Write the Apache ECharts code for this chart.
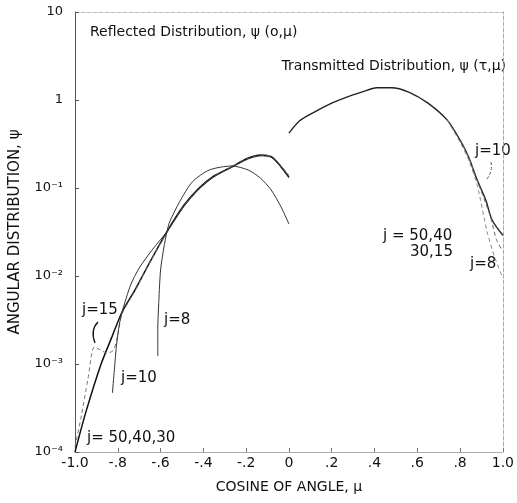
<!DOCTYPE html>
<html>
<head>
<meta charset="utf-8">
<script src="https://cdn.jsdelivr.net/npm/echarts@6/dist/echarts.min.js"></script>
<style>
  html, body { margin: 0; padding: 0; background: #fff; }
  #main { width: 517px; height: 503px; }
</style>
</head>
<body>
<div id="main"></div>
<script>
// reflected distribution psi(0, mu), mu < 0
const reflMu = [-1, -0.95, -0.88, -0.825, -0.78, -0.72, -0.65, -0.57, -0.49, -0.42, -0.35, -0.27, -0.19, -0.13, -0.08, -0.04, 0];
const reflJ50 = [1e-4, 2.8e-4, 9.7e-4, 2.1e-3, 3.9e-3, 6.9e-3, 0.0144, 0.032, 0.064, 0.10, 0.137, 0.173, 0.219, 0.237, 0.225, 0.178, 0.133];

const reflMuJ15 = [-1, -0.97, -0.94, -0.91, -0.88, -0.85, -0.82, -0.80, -0.78, -0.72, -0.65, -0.57, -0.49, -0.42, -0.35, -0.27, -0.19, -0.13, -0.08, -0.04, 0];
const reflJ15 = [1.14e-4, 2.6e-4, 6.6e-4, 1.56e-3, 1.44e-3, 1.33e-3, 1.44e-3, 2.14e-3, 3.7e-3, 6.7e-3, 0.0142, 0.031, 0.063, 0.098, 0.135, 0.172, 0.217, 0.236, 0.227, 0.182, 0.14];

const reflMuJ10 = [-0.825, -0.816, -0.806, -0.793, -0.78, -0.74, -0.70, -0.64, -0.57, -0.49, -0.42, -0.35, -0.27, -0.19, -0.13, -0.08, -0.04, 0];
const reflJ10 = [4.7e-4, 8.6e-4, 1.64e-3, 2.8e-3, 3.9e-3, 7.9e-3, 0.0123, 0.0197, 0.032, 0.062, 0.097, 0.134, 0.170, 0.214, 0.232, 0.222, 0.176, 0.13];

const reflMuJ8 = [-0.613, -0.613, -0.608, -0.60, -0.585, -0.57, -0.558, -0.512, -0.452, -0.373, -0.267, -0.19, -0.134, -0.083, -0.037, 0];
const reflJ8 = [1.23e-3, 2.43e-3, 5.3e-3, 0.0117, 0.0208, 0.032, 0.041, 0.069, 0.117, 0.160, 0.178, 0.160, 0.130, 0.095, 0.061, 0.039];

// transmitted distribution psi(tau, mu), mu > 0
const transMu = [0, 0.05, 0.11, 0.2, 0.27, 0.34, 0.41, 0.48, 0.56, 0.65, 0.74, 0.8, 0.84, 0.88, 0.92, 0.95, 1.0];
const transJ50 = [0.42, 0.58, 0.71, 0.92, 1.08, 1.23, 1.38, 1.38, 1.23, 0.92, 0.59, 0.35, 0.225, 0.123, 0.073, 0.043, 0.029];

const transMuJ10 = [0.8, 0.84, 0.87, 0.90, 0.94, 0.97, 1.0];
const transJ10 = [0.35, 0.225, 0.14, 0.09, 0.049, 0.026, 0.019];

const transMuJ8 = [0.74, 0.8, 0.84, 0.88, 0.926, 0.963, 1.0];
const transJ8 = [0.59, 0.33, 0.208, 0.108, 0.032, 0.016, 0.0095];

const yTickLabels = { '10': '10', '1': '1', '0.1': '10⁻¹', '0.01': '10⁻²', '0.001': '10⁻³', '0.0001': '10⁻⁴' };

const zip = (xs, ys) => xs.map((x, i) => [x, ys[i]]);

const font = 'DejaVu Sans';

const chart = echarts.init(document.getElementById('main'), null, { renderer: 'canvas' });

function line(data, color, width, type) {
  return {
    type: 'line',
    data: data,
    symbol: 'none',
    smooth: 0.25,
    lineStyle: { color: color, width: width, type: type || 'solid' },
    silent: true
  };
}

function txt(pos, text, size) {
  return Object.assign({
    type: 'text',
    style: { text: text, fontSize: size, fontFamily: font, fill: '#111' }
  }, pos);
}

const option = {
  animation: false,
  backgroundColor: '#fff',
  grid: { left: 74, right: 10, top: 12, bottom: 51 },
  xAxis: [
    {
      type: 'value',
      min: -1,
      max: 1,
      interval: 0.2,
      name: 'COSINE OF ANGLE, μ',
      nameLocation: 'middle',
      nameGap: 28,
      nameTextStyle: { fontSize: 14, fontFamily: font, color: '#111' },
      axisLine: { onZero: false, lineStyle: { color: '#999', type: 'dotted', width: 1 } },
      axisTick: { inside: true, length: 4, lineStyle: { color: '#777' } },
      axisLabel: {
        fontSize: 14,
        fontFamily: font,
        color: '#111',
        margin: 4,
        formatter: function (v) {
          const r = Math.round(v * 10) / 10;
          if (r === 0) return '0';
          if (r === 1) return '1.0';
          if (r === -1) return '-1.0';
          return r.toFixed(1).replace('0.', '.');
        }
      },
      splitLine: { show: false }
    },
    {
      type: 'value',
      position: 'top',
      min: -1,
      max: 1,
      axisLine: { onZero: false, lineStyle: { color: '#bbb', type: 'dashed', width: 1 } },
      axisTick: { show: false },
      axisLabel: { show: false },
      splitLine: { show: false }
    }
  ],
  yAxis: [
    {
      type: 'log',
      logBase: 10,
      min: 1e-4,
      max: 10,
      name: 'ANGULAR DISTRIBUTION, ψ',
      nameLocation: 'middle',
      nameGap: 52,
      nameRotate: 90,
      nameTextStyle: { fontSize: 15, fontFamily: font, color: '#111' },
      axisLine: { onZero: false, lineStyle: { color: '#555', width: 1 } },
      axisTick: { inside: true, length: 4, lineStyle: { color: '#555' } },
      axisLabel: {
        fontSize: 13,
        fontFamily: font,
        color: '#111',
        margin: 12,
        formatter: function (v) {
          const key = String(Number(v.toPrecision(3)));
          return yTickLabels[key] || '';
        }
      },
      splitLine: { show: false }
    },
    {
      type: 'log',
      logBase: 10,
      min: 1e-4,
      max: 10,
      position: 'right',
      axisLine: { onZero: false, lineStyle: { color: '#aaa', type: 'dashed', width: 1 } },
      axisTick: { show: false },
      axisLabel: { show: false },
      splitLine: { show: false }
    }
  ],
  series: [
    line(zip(reflMu, reflJ50), '#111', 1.5),
    line(zip(reflMuJ15, reflJ15), '#777', 1, [4, 3]),
    line(zip(reflMuJ10, reflJ10), '#333', 1),
    line(zip(reflMuJ8, reflJ8), '#333', 1),
    line(zip(transMu, transJ50), '#222', 1.4),
    line(zip(transMuJ10, transJ10), '#666', 1, [4, 3]),
    line(zip(transMuJ8, transJ8), '#888', 1, [4, 3])
  ],
  graphic: [
    txt({ left: 90, top: 25 }, 'Reflected Distribution, ψ (o,μ)', 14),
    txt({ right: 11, top: 59 }, 'Transmitted Distribution, ψ (τ,μ)', 14),
    txt({ left: 475, top: 144 }, 'j=10', 15),
    txt({ left: 383, top: 229 }, 'j = 50,40', 15),
    txt({ left: 410, top: 245 }, '30,15', 15),
    txt({ left: 470, top: 257 }, 'j=8', 15),
    txt({ left: 82, top: 303 }, 'j=15', 15),
    txt({ left: 164, top: 313 }, 'j=8', 15),
    txt({ left: 121, top: 371 }, 'j=10', 15),
    txt({ left: 87, top: 431 }, 'j= 50,40,30', 15),
    {
      type: 'bezierCurve',
      shape: { x1: 98, y1: 322, x2: 95, y2: 343, cpx1: 90, cpy1: 330 },
      style: { stroke: '#111', lineWidth: 1.3, fill: null }
    },
    {
      type: 'bezierCurve',
      shape: { x1: 491, y1: 162, x2: 486, y2: 180, cpx1: 493, cpy1: 172 },
      style: { stroke: '#555', lineWidth: 1, lineDash: [3, 2], fill: null }
    }
  ]
};

option && chart.setOption(option);
</script>
</body>
</html>
